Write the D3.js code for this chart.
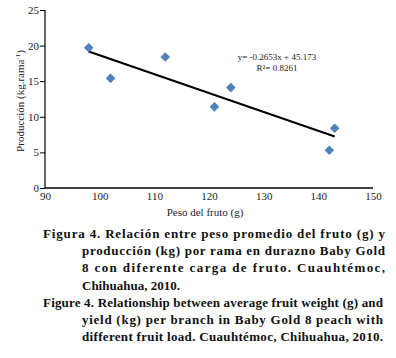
<!DOCTYPE html>
<html><head><meta charset="utf-8">
<script src="https://cdn.jsdelivr.net/npm/d3@7"></script>
<style>body{margin:0;background:#fff}svg{display:block}</style>
</head><body>
<script>
const fruitWeight = [98, 102, 112, 121, 124, 142, 143];
const production = [19.7, 15.4, 18.4, 11.4, 14.1, 5.3, 8.4];
const xTicks = [90, 100, 110, 120, 130, 140, 150];
const yTicks = [0, 5, 10, 15, 20, 25];
const slope = -0.2653, intercept = 45.173;
const eqLabel = "y= -0.2653x + 45.173";
const r2Label = "R²= 0.8261";
const captionEs = [
  "Figura 4. Relación entre peso promedio del fruto (g) y",
  "producción (kg) por rama en durazno Baby Gold",
  "8 con diferente carga de fruto. Cuauhtémoc,",
  "Chihuahua, 2010."
];
const captionEn = [
  "Figure 4. Relationship between average fruit weight (g) and",
  "yield (kg) per branch in Baby Gold 8 peach with",
  "different fruit load. Cuauhtémoc, Chihuahua, 2010."
];

const W = 396, H = 358;
const svg = d3.select("body").append("svg").attr("width", W).attr("height", H);
const font = "'Liberation Serif', 'Times New Roman', serif";

const x = d3.scaleLinear().domain([90, 150]).range([45, 373]);
const y = d3.scaleLinear().domain([0, 25]).range([188, 10]);

// y axis
const ya = svg.append("g").attr("transform", `translate(${x(90)},0)`)
  .call(d3.axisLeft(y).tickValues(yTicks).tickSize(5).tickPadding(1).tickFormat(d3.format("d")));
ya.select(".domain").attr("stroke", "#000").attr("stroke-width", 1.2).attr("d", `M0,${y(25)}V${y(0)}`);
ya.selectAll(".tick line").attr("stroke", "#000");
ya.selectAll(".tick text").attr("font-family", font).attr("font-size", 11).attr("fill", "#222");

// x axis
const xa = svg.append("g").attr("transform", `translate(0,${y(0)})`)
  .call(d3.axisBottom(x).tickValues(xTicks).tickSize(0).tickPadding(4).tickFormat(d3.format("d")));
xa.select(".domain").attr("stroke", "#000").attr("stroke-width", 1.5).attr("d", `M${x(90)},0H${x(150)}`);
xa.selectAll(".tick text").attr("font-family", font).attr("font-size", 11).attr("fill", "#222");

// axis titles
svg.append("text").attr("x", 205).attr("y", 216).attr("text-anchor", "middle")
  .attr("font-family", font).attr("font-size", 11).attr("fill", "#222").text("Peso del fruto (g)");
const yt = svg.append("text").attr("transform", "translate(24,101) rotate(-90)").attr("text-anchor", "middle")
  .attr("font-family", font).attr("font-size", 11).attr("fill", "#222");
yt.append("tspan").text("Producción (kg.rama");
yt.append("tspan").attr("font-size", 7).attr("dy", -4).text("-1");
yt.append("tspan").attr("dy", 4).text(")");

// trend line
const xMin = d3.min(fruitWeight), xMax = d3.max(fruitWeight);
svg.append("line")
  .attr("x1", x(xMin)).attr("y1", y(slope * xMin + intercept))
  .attr("x2", x(xMax)).attr("y2", y(slope * xMax + intercept))
  .attr("stroke", "#000").attr("stroke-width", 2);

// points
const diamond = d3.symbol().type(d3.symbolSquare).size(46);
svg.selectAll("path.pt").data(fruitWeight).enter().append("path")
  .attr("class", "pt")
  .attr("d", diamond)
  .attr("transform", (d, i) => `translate(${x(d)},${y(production[i])}) rotate(45)`)
  .attr("fill", "#4F81BD");

// equation
svg.append("text").attr("x", 277).attr("y", 60).attr("text-anchor", "middle")
  .attr("font-family", font).attr("font-size", 9).attr("fill", "#222").text(eqLabel);
svg.append("text").attr("x", 277).attr("y", 71).attr("text-anchor", "middle")
  .attr("font-family", font).attr("font-size", 9).attr("fill", "#222").text(r2Label);

// caption
const capG = svg.append("g").attr("font-family", font).attr("font-weight", "bold").attr("font-size", 13).attr("fill", "#111");
function capLine(txt, x0, yb, x1, justify) {
  const t = capG.append("text").attr("x", x0).attr("y", yb).text(txt);
  if (justify) t.attr("textLength", x1 - x0).attr("lengthAdjust", "spacing");
}
captionEs.forEach((t, i) => capLine(t, i === 0 ? 43 : 82, 238 + i * 17.2, 385, i < 3));
captionEn.forEach((t, i) => capLine(t, i === 0 ? 43 : 82, 306.7 + i * 17.2, 383, true));
</script>
</body></html>
